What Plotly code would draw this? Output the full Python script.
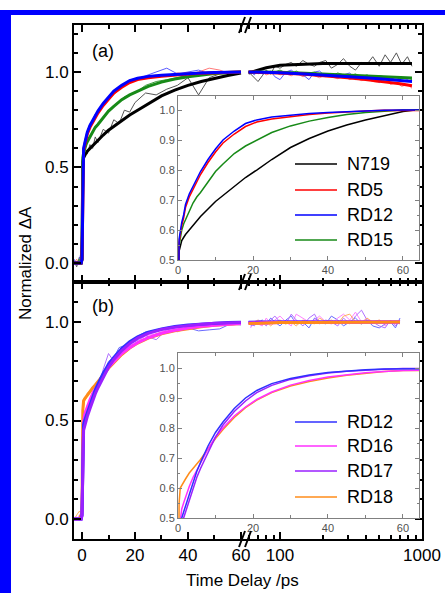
import plotly.graph_objects as go
import math

# ---------------- DATA ----------------
# fit curves, linear segment (ps)
T_FIT = [-3, -1, -0.3, 0, 0.3, 0.6, 1, 1.5, 2, 3, 4, 5, 6, 8, 10, 12, 15, 18, 21, 25, 30, 35, 40, 45, 50, 55, 60]
N719_FIT = [0, 0, 0, 0.02, 0.53, 0.55, 0.565, 0.575, 0.585, 0.60, 0.615, 0.63, 0.645, 0.67, 0.695, 0.715, 0.745, 0.775, 0.80, 0.835, 0.875, 0.905, 0.93, 0.95, 0.967, 0.982, 0.995]
RD5_FIT = [0, 0, 0, 0.02, 0.56, 0.59, 0.615, 0.64, 0.675, 0.71, 0.735, 0.76, 0.785, 0.825, 0.86, 0.89, 0.92, 0.945, 0.96, 0.97, 0.978, 0.985, 0.99, 0.994, 0.997, 0.999, 1.0]
RD12_FIT = [0, 0, 0, 0.02, 0.57, 0.60, 0.625, 0.65, 0.685, 0.72, 0.745, 0.77, 0.795, 0.835, 0.87, 0.90, 0.93, 0.955, 0.967, 0.977, 0.983, 0.988, 0.992, 0.995, 0.997, 0.999, 1.0]
RD15_FIT = [0, 0, 0, 0.02, 0.55, 0.575, 0.60, 0.62, 0.635, 0.66, 0.69, 0.71, 0.725, 0.76, 0.795, 0.82, 0.855, 0.88, 0.90, 0.925, 0.947, 0.963, 0.975, 0.985, 0.992, 0.997, 1.0]

# fit curves, log segment (ps)
T_FIT_LA = [60, 70, 80, 100, 150, 200, 300, 400, 500, 700, 850]
N719_FIT_L = [0.995, 1.01, 1.022, 1.035, 1.043, 1.045, 1.045, 1.045, 1.045, 1.045, 1.045]
RD5_FIT_L = [1.0, 0.999, 0.998, 0.995, 0.988, 0.981, 0.97, 0.96, 0.952, 0.938, 0.928]
RD12_FIT_L = [1.0, 0.999, 0.998, 0.996, 0.99, 0.985, 0.977, 0.97, 0.965, 0.955, 0.95]
RD15_FIT_L = [1.0, 1.0, 0.999, 0.998, 0.994, 0.99, 0.985, 0.98, 0.977, 0.972, 0.968]

# panel (b) fits
RD12B_FIT = [0, 0, 0, 0.02, 0.45, 0.48, 0.5, 0.52, 0.54, 0.58, 0.62, 0.655, 0.685, 0.74, 0.785, 0.82, 0.865, 0.9, 0.925, 0.948, 0.965, 0.977, 0.985, 0.99, 0.994, 0.997, 0.999]
RD16B_FIT = [0, 0, 0, 0.02, 0.46, 0.49, 0.53, 0.55, 0.57, 0.605, 0.635, 0.66, 0.685, 0.73, 0.77, 0.80, 0.84, 0.87, 0.895, 0.92, 0.943, 0.958, 0.97, 0.978, 0.984, 0.988, 0.992]
RD17B_FIT = [0, 0, 0, 0.02, 0.42, 0.45, 0.47, 0.50, 0.52, 0.56, 0.60, 0.635, 0.665, 0.72, 0.77, 0.81, 0.855, 0.89, 0.918, 0.942, 0.962, 0.974, 0.983, 0.989, 0.993, 0.996, 0.998]
RD18B_FIT = [0, 0, 0.02, 0.04, 0.55, 0.60, 0.61, 0.62, 0.63, 0.65, 0.665, 0.68, 0.695, 0.73, 0.765, 0.795, 0.835, 0.868, 0.893, 0.918, 0.94, 0.955, 0.967, 0.976, 0.983, 0.988, 0.992]

T_FIT_LB = [60, 70, 80, 100, 150, 200, 300, 400, 500, 600, 700]
RD12B_FIT_L = [0.999, 1.0, 1.0, 1.0, 1.0, 1.0, 1.0, 1.0, 1.0, 1.0, 1.0]
RD16B_FIT_L = [0.992, 0.994, 0.995, 0.997, 0.998, 0.999, 0.999, 1.0, 1.0, 1.0, 1.0]
RD17B_FIT_L = [0.998, 0.999, 1.0, 1.0, 1.0, 1.0, 1.0, 1.0, 1.0, 1.0, 1.0]
RD18B_FIT_L = [0.992, 0.994, 0.995, 0.997, 0.998, 0.999, 0.999, 1.0, 1.0, 1.0, 1.0]

# raw data, linear segment
T_RAW = [-3, -2, -1, -0.5, 0, 0.5, 1, 1.5, 2, 3, 4, 5, 6, 7, 8, 10, 12, 14, 16, 18, 20, 24, 28, 32, 36, 40, 44, 48, 52, 56, 60]
N719_RAW = [0.01, -0.02, 0.03, 0.0, 0.1, 0.5, 0.56, 0.58, 0.57, 0.62, 0.6, 0.66, 0.63, 0.67, 0.7, 0.68, 0.75, 0.73, 0.8, 0.79, 0.84, 0.89, 0.88, 0.91, 0.93, 0.97, 0.88, 0.97, 0.99, 0.99, 1.0]
RD5_RAW = [0.0, 0.02, -0.01, 0.03, 0.15, 0.57, 0.61, 0.64, 0.68, 0.71, 0.745, 0.76, 0.79, 0.8, 0.83, 0.86, 0.88, 0.91, 0.935, 0.945, 0.96, 0.97, 0.985, 0.98, 0.995, 0.99, 1.0, 1.02, 1.01, 0.99, 1.0]
RD12_RAW = [0.02, -0.01, 0.01, 0.05, 0.2, 0.58, 0.62, 0.66, 0.69, 0.73, 0.74, 0.78, 0.79, 0.81, 0.82, 0.87, 0.9, 0.92, 0.93, 0.96, 0.955, 0.98, 1.0, 1.02, 0.99, 1.0, 1.01, 0.99, 1.0, 1.0, 1.0]
RD15_RAW = [0.01, 0.0, 0.02, -0.01, 0.12, 0.55, 0.6, 0.62, 0.63, 0.66, 0.69, 0.71, 0.73, 0.74, 0.76, 0.8, 0.82, 0.84, 0.87, 0.88, 0.89, 0.93, 0.95, 0.96, 0.97, 0.985, 0.99, 1.0, 1.0, 1.0, 1.0]

RD12B_RAW = [0.0, 0.01, -0.01, 0.02, 0.1, 0.45, 0.5, 0.53, 0.55, 0.6, 0.61, 0.67, 0.69, 0.72, 0.73, 0.8, 0.82, 0.87, 0.88, 0.9, 0.92, 0.95, 0.955, 0.97, 0.96, 0.97, 0.955, 0.96, 0.965, 0.99, 0.985]
RD16B_RAW = [0.01, -0.01, 0.02, 0.0, 0.12, 0.47, 0.55, 0.56, 0.58, 0.6, 0.65, 0.66, 0.69, 0.71, 0.74, 0.77, 0.8, 0.83, 0.86, 0.88, 0.89, 0.93, 0.94, 0.96, 0.95, 0.97, 0.98, 0.985, 0.99, 0.985, 0.99]
RD17B_RAW = [0.0, 0.0, 0.01, 0.03, 0.08, 0.43, 0.47, 0.5, 0.53, 0.57, 0.6, 0.63, 0.68, 0.7, 0.76, 0.84, 0.8, 0.85, 0.86, 0.89, 0.9, 0.93, 0.91, 0.96, 0.97, 0.985, 0.98, 0.99, 0.985, 0.995, 0.99]
RD18B_RAW = [0.0, 0.02, 0.04, 0.03, 0.2, 0.56, 0.6, 0.61, 0.64, 0.65, 0.67, 0.68, 0.7, 0.72, 0.74, 0.77, 0.79, 0.84, 0.85, 0.87, 0.89, 0.91, 0.94, 0.95, 0.96, 0.97, 0.98, 0.985, 0.99, 0.99, 0.99]

# raw data, log segment
T_RAW_LA = [62, 66, 70, 75, 80, 86, 92, 100, 110, 120, 130, 145, 160, 175, 190, 210, 230, 255, 280, 310, 340, 375, 410, 450, 500, 550, 600, 660, 720, 790, 850]
N719_RAW_L = [0.99, 0.97, 0.95, 0.98, 1.01, 0.99, 1.03, 1.02, 1.04, 1.05, 1.03, 1.06, 1.04, 1.03, 1.05, 1.06, 1.02, 1.04, 1.07, 1.03, 1.01, 1.05, 1.04, 1.08, 1.03, 1.09, 1.05, 1.10, 1.04, 1.08, 1.03]
RD5_RAW_L = [1.0, 1.01, 0.99, 1.0, 0.985, 0.995, 1.0, 0.985, 0.99, 0.98, 0.995, 0.975, 0.985, 0.98, 0.97, 0.985, 0.975, 0.965, 0.98, 0.96, 0.97, 0.955, 0.965, 0.95, 0.945, 0.96, 0.935, 0.945, 0.925, 0.935, 0.915]
RD12_RAW_L = [1.0, 0.985, 1.01, 0.99, 0.995, 1.005, 0.975, 0.96, 1.0, 1.01, 0.99, 0.985, 0.96, 1.0, 1.005, 0.975, 0.99, 0.97, 0.985, 0.995, 0.96, 0.98, 0.975, 0.97, 0.945, 0.97, 0.96, 0.975, 0.95, 0.96, 0.945]
RD15_RAW_L = [1.0, 1.0, 1.01, 0.995, 1.005, 0.99, 1.0, 1.01, 0.995, 0.99, 1.005, 0.985, 0.995, 1.0, 0.985, 0.99, 0.98, 0.995, 0.985, 0.98, 0.99, 0.975, 0.985, 0.97, 0.98, 0.975, 0.965, 0.975, 0.965, 0.97, 0.96]

T_RAW_LB = [62, 66, 70, 75, 80, 86, 92, 100, 110, 120, 130, 145, 160, 175, 190, 210, 230, 255, 280, 310, 340, 375, 410, 450, 500, 550, 600, 650, 700]
RD12B_RAW_L = [0.98, 0.99, 1.0, 1.01, 0.99, 1.02, 1.0, 0.98, 1.01, 1.03, 0.99, 1.0, 0.97, 1.02, 1.0, 0.99, 1.03, 1.01, 0.98, 1.0, 1.02, 0.99, 1.01, 0.98, 0.97, 0.99, 1.0, 0.97, 1.02]
RD16B_RAW_L = [0.97, 1.0, 0.99, 0.98, 1.02, 0.99, 1.01, 1.03, 1.0, 0.98, 1.04, 1.02, 1.0, 1.01, 1.03, 1.0, 0.99, 1.02, 1.04, 1.01, 1.05, 1.0, 1.02, 0.99, 1.01, 0.98, 1.0, 0.99, 1.0]
RD17B_RAW_L = [0.99, 0.98, 1.01, 1.0, 0.98, 1.01, 1.03, 1.0, 0.99, 1.04, 1.01, 0.98, 1.02, 1.04, 0.99, 1.01, 1.0, 0.98, 1.02, 0.99, 1.03, 1.06, 1.01, 1.0, 0.98, 0.97, 1.01, 0.98, 1.01]
RD18B_RAW_L = [0.99, 1.0, 1.01, 0.99, 1.0, 0.98, 1.0, 1.01, 0.99, 1.0, 0.98, 1.01, 1.0, 0.99, 1.02, 1.0, 1.01, 0.99, 1.03, 1.04, 1.0, 0.99, 1.02, 1.0, 1.01, 0.99, 1.0, 1.0, 0.99]

NAMES_A = ["N719", "RD5", "RD12", "RD15"]
NAMES_B = ["RD12", "RD16", "RD17", "RD18"]
X_TICKS_LIN = [0, 20, 40, 60]
X_TICKS_LOG = [100, 1000]
X_MINOR_LOG = [60, 70, 80, 90, 200, 300, 400, 500, 600, 700, 800, 900]

# ---------------- STYLE / LAYOUT ----------------
FONT = "Arial, Liberation Sans, sans-serif"
W, H = 445, 593
PL, PR, PT, PB = 74, 422, 25, 539
SPLIT = 246
def px(x): return (x - PL) / (PR - PL)
def py(y): return (PB - y) / (PB - PT)
s = px(SPLIT)

FIT_COL_A = ["#000000", "#ff0000", "#0000ff", "#178a17"]
RAW_COL_A = ["#555555", "#ff7a7a", "#5a5aff", "#3c9c3c"]
FIT_COL_B = ["#3030ff", "#ff30ff", "#9a20ff", "#ff8c1a"]
RAW_COL_B = ["#6a6aff", "#ff80ff", "#b070ff", "#ffb060"]

fits_a = [N719_FIT, RD5_FIT, RD12_FIT, RD15_FIT]
fits_al = [N719_FIT_L, RD5_FIT_L, RD12_FIT_L, RD15_FIT_L]
raws_a = [N719_RAW, RD5_RAW, RD12_RAW, RD15_RAW]
raws_al = [N719_RAW_L, RD5_RAW_L, RD12_RAW_L, RD15_RAW_L]
fits_b = [RD12B_FIT, RD16B_FIT, RD17B_FIT, RD18B_FIT]
fits_bl = [RD12B_FIT_L, RD16B_FIT_L, RD17B_FIT_L, RD18B_FIT_L]
raws_b = [RD12B_RAW, RD16B_RAW, RD17B_RAW, RD18B_RAW]
raws_bl = [RD12B_RAW_L, RD16B_RAW_L, RD17B_RAW_L, RD18B_RAW_L]

fig = go.Figure()

def add(x, y, xa, ya, color, width, name):
    fig.add_trace(go.Scatter(x=x, y=y, xaxis=xa, yaxis=ya, mode="lines",
                             line=dict(color=color, width=width), name=name,
                             showlegend=False, hoverinfo="skip"))

# panel (a)
for i in range(4):
    add(T_RAW, raws_a[i], "x", "y", RAW_COL_A[i], 1, NAMES_A[i])
    add(T_RAW_LA, raws_al[i], "x2", "y2", RAW_COL_A[i], 1, NAMES_A[i])
for i in [0, 3, 1, 2]:
    add(T_FIT, fits_a[i], "x", "y", FIT_COL_A[i], 3, NAMES_A[i])
    add(T_FIT_LA, fits_al[i], "x2", "y2", FIT_COL_A[i], 3, NAMES_A[i])
# panel (b)
for i in range(4):
    add(T_RAW, raws_b[i], "x3", "y3", RAW_COL_B[i], 1, NAMES_B[i])
    add(T_RAW_LB, raws_bl[i], "x4", "y4", RAW_COL_B[i], 1, NAMES_B[i])
for i in [3, 1, 0, 2]:
    add(T_FIT, fits_b[i], "x3", "y3", FIT_COL_B[i], 3, NAMES_B[i])
for i in [0, 2, 1, 3]:
    add(T_FIT_LB, fits_bl[i], "x4", "y4", FIT_COL_B[i], 3, NAMES_B[i])
# insets
for i in [0, 3, 1, 2]:
    add(T_FIT + T_FIT_LA[1:], fits_a[i] + fits_al[i][1:], "x5", "y5", FIT_COL_A[i], 1.5, NAMES_A[i])
for i in [3, 1, 2, 0]:
    add(T_FIT + T_FIT_LB[1:], fits_b[i] + fits_bl[i][1:], "x6", "y6", FIT_COL_B[i], 1.5, NAMES_B[i])

main_common = dict(showline=True, linewidth=2, linecolor="black", ticks="inside",
                   ticklen=7, tickwidth=2, tickcolor="black", showgrid=False, automargin=False,
                   zeroline=False, tickfont=dict(size=17, color="black", family=FONT))

def xlin(anchor, labels):
    return dict(main_common, domain=[0, s], range=[-3.02, 61.9], anchor=anchor,
                mirror="allticks", tickmode="array", tickvals=X_TICKS_LIN,
                ticktext=[str(v) for v in X_TICKS_LIN], showticklabels=labels,
                minor=dict(dtick=10, tick0=0, ticklen=4, tickwidth=2, ticks="inside", tickcolor="black"))

def xlog(anchor, labels):
    return dict(main_common, type="log", domain=[s, 1], range=[math.log10(57.6), 3], anchor=anchor,
                mirror="allticks", tickmode="array", tickvals=X_TICKS_LOG,
                ticktext=[str(v) for v in X_TICKS_LOG], showticklabels=labels,
                minor=dict(tickmode="array", tickvals=X_MINOR_LOG, ticklen=4, tickwidth=2,
                           ticks="inside", tickcolor="black"))

def yl(dom, rng, anchor):
    return dict(main_common, domain=dom, range=rng, anchor=anchor, dtick=0.5, tick0=0,
                tickformat=".1f", minor=dict(dtick=0.1, tick0=0, ticklen=4, tickwidth=2,
                                             ticks="inside", tickcolor="black"))

def yr(dom, rng, anchor):
    return dict(main_common, domain=dom, range=rng, anchor=anchor, side="right", dtick=0.5, tick0=0,
                showticklabels=False, minor=dict(dtick=0.1, tick0=0, ticklen=4, tickwidth=2,
                                                 ticks="inside", tickcolor="black"))

RA = [-0.0995, 1.246]
RB = [-0.1015, 1.203]
DA = [0.5, 1]
DB = [0, 0.5]

inset_common = dict(showline=True, linewidth=1, linecolor="#808080", mirror="allticks",
                    ticks="inside", ticklen=4, tickwidth=1, tickcolor="#808080",
                    showgrid=False, zeroline=False, automargin=False,
                    tickfont=dict(size=11, color="#505050", family=FONT))

def ix(anchor):
    return dict(inset_common, domain=[px(178), px(419)], range=[0, 64.27], anchor=anchor,
                dtick=20, tick0=0, minor=dict(dtick=10, tick0=0, ticklen=3, ticks="inside", tickcolor="#808080"))

def iy(anchor, dom, rng):
    return dict(inset_common, domain=dom, range=rng, anchor=anchor, dtick=0.1, tick0=0.5,
                tickformat=".1f", minor=dict(dtick=0.05, tick0=0.5, ticklen=2, ticks="inside", tickcolor="#808080"))

fig.update_layout(
    template="none",
    width=W, height=H, paper_bgcolor="white", plot_bgcolor="white",
    margin=dict(l=PL, r=W - PR, t=PT, b=H - PB, pad=0, autoexpand=False),
    font=dict(family=FONT, color="black"),
    showlegend=False,
    xaxis=xlin("y", False), xaxis2=xlog("y2", False),
    yaxis=yl(DA, RA, "x"), yaxis2=yr(DA, RA, "x2"),
    xaxis3=xlin("y3", True), xaxis4=xlog("y4", True),
    yaxis3=yl(DB, RB, "x3"), yaxis4=yr(DB, RB, "x4"),
    xaxis5=ix("y5"), yaxis5=iy("x5", [py(260), py(96)], [0.5, 1.0467]),
    xaxis6=ix("y6"), yaxis6=iy("x6", [py(518), py(353)], [0.5, 1.05]),
)

shapes = []
annotations = []

# blue frame of the image
BLUE = "#0000ff"
for (x0, y0, x1, y1) in [(0, 10, 11, 593), (0, 10, 445, 15)]:
    shapes.append(dict(type="rect", xref="paper", yref="paper", x0=px(x0), x1=px(x1),
                       y0=py(y1), y1=py(y0), fillcolor=BLUE, line=dict(width=0), layer="above"))

# axis break marks
for yb in [PT, 282, PB]:
    for dx in [-4, 2]:
        shapes.append(dict(type="line", xref="paper", yref="paper",
                           x0=px(SPLIT + dx - 3), y0=py(yb + 8), x1=px(SPLIT + dx + 3), y1=py(yb - 8),
                           line=dict(color="black", width=2)))

# legends inside insets
LEG_ROWS_A = [164, 190, 215, 240]
LEG_ROWS_B = [422, 446, 471, 497]
for names, cols, rows in [(NAMES_A, FIT_COL_A, LEG_ROWS_A), (NAMES_B, FIT_COL_B, LEG_ROWS_B)]:
    for n, c, r in zip(names, cols, rows):
        shapes.append(dict(type="line", xref="paper", yref="paper", x0=px(295), x1=px(337),
                           y0=py(r), y1=py(r), line=dict(color=c, width=1.5)))
        annotations.append(dict(text=n, xref="paper", yref="paper", x=px(345), y=py(r),
                                xanchor="left", yanchor="middle", showarrow=False,
                                font=dict(size=18, color="black", family=FONT)))

# panel labels and titles
annotations.append(dict(text="(a)", xref="paper", yref="paper", x=px(90), y=py(51),
                        xanchor="left", yanchor="middle", showarrow=False, font=dict(size=18)))
annotations.append(dict(text="(b)", xref="paper", yref="paper", x=px(90), y=py(306),
                        xanchor="left", yanchor="middle", showarrow=False, font=dict(size=18)))
annotations.append(dict(text="Time Delay /ps", xref="paper", yref="paper", x=px(242), y=py(580),
                        xanchor="center", yanchor="middle", showarrow=False, font=dict(size=17)))
annotations.append(dict(text="Normalized ΔA", xref="paper", yref="paper", x=px(25), y=py(263),
                        xanchor="center", yanchor="middle", showarrow=False, textangle=-90,
                        font=dict(size=17)))

fig.update_layout(shapes=shapes, annotations=annotations)
fig.write_html("out.html", config={"displayModeBar": False},
               post_script="document.body.style.margin='0';document.body.style.padding='0';")
